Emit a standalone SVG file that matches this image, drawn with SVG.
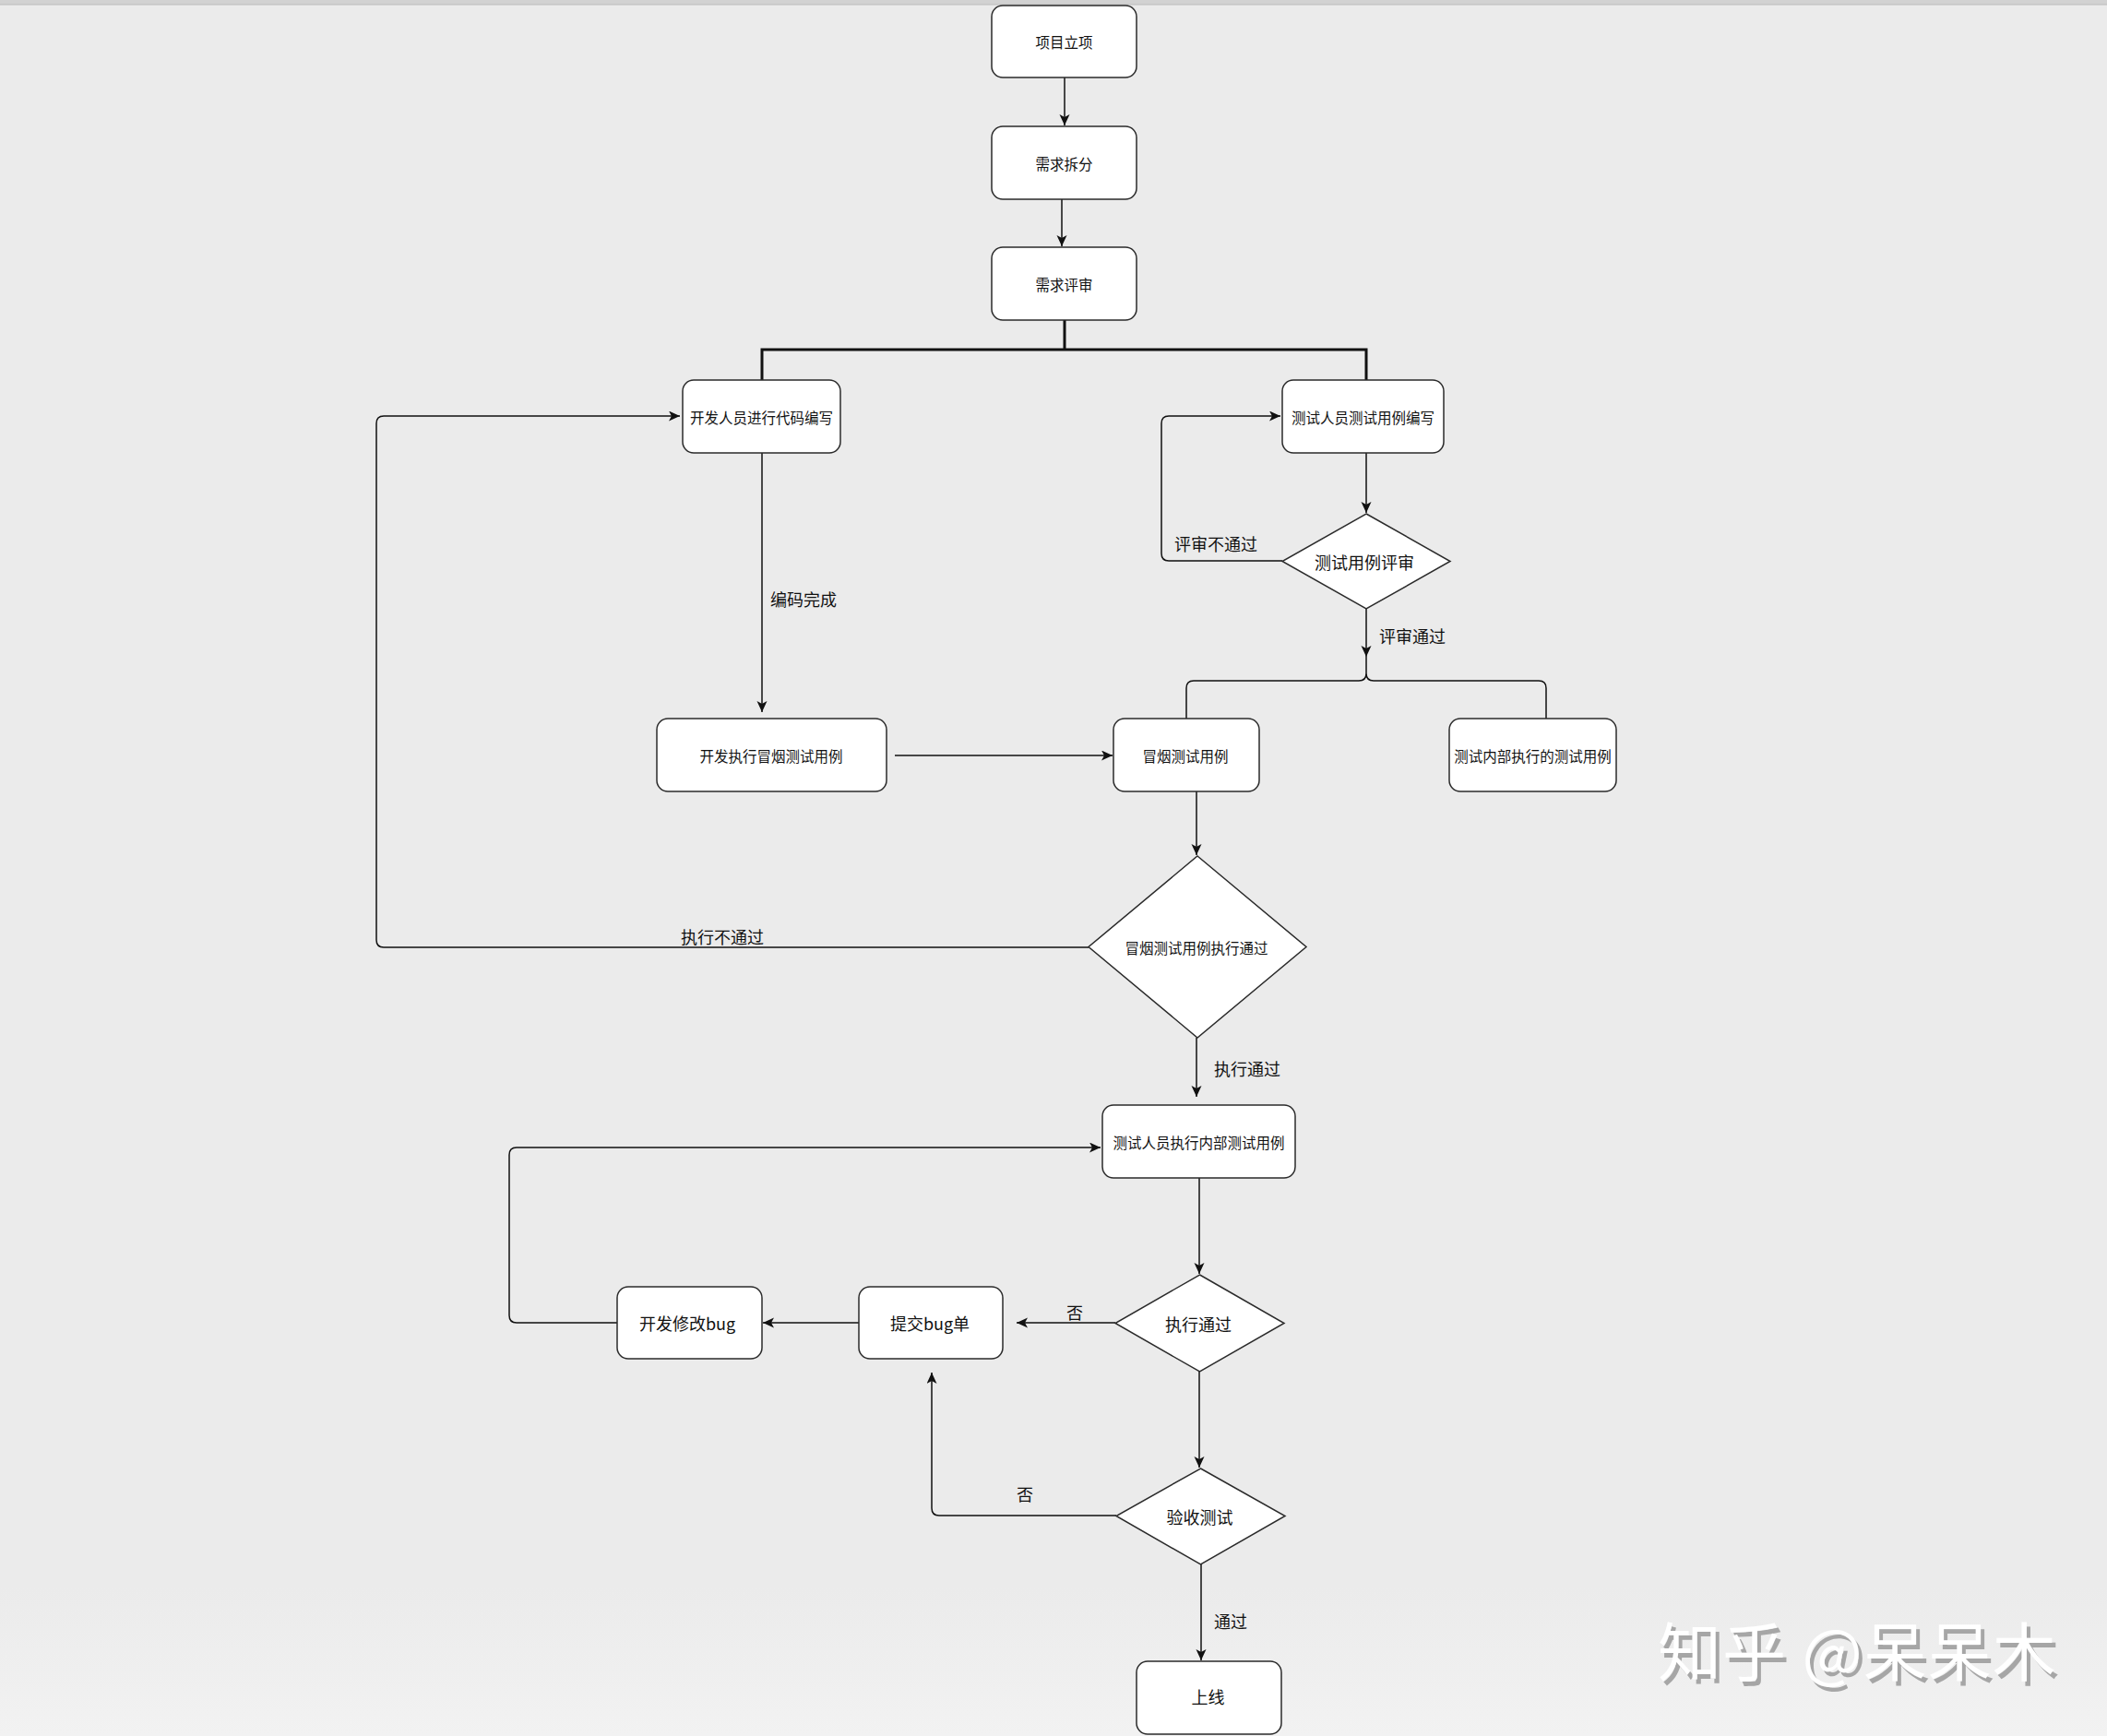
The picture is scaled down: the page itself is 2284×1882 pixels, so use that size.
<svg xmlns="http://www.w3.org/2000/svg" width="2284" height="1882" viewBox="0 0 2284 1882">
<defs>
<style>
.bg{fill:#ebebeb}
.box{fill:#ffffff;stroke:#2b2b2b;stroke-width:1.5}
.dia{fill:#ffffff;stroke:#2b2b2b;stroke-width:1.5}
.t{font-family:"Noto Sans CJK SC","Liberation Sans",sans-serif;fill:#111;text-anchor:middle;dominant-baseline:central}
.s{font-size:15.5px}
.m{font-size:18px}
.lbl{font-family:"Noto Sans CJK SC","Liberation Sans",sans-serif;fill:#111;font-size:18px;dominant-baseline:central}
.c{fill:none;stroke:#111;stroke-width:1.5}
.ca{fill:none;stroke:#111;stroke-width:1.5;marker-end:url(#arr)}
.thick{fill:none;stroke:#111;stroke-width:3}
.wm{font-family:"Noto Sans CJK SC","Liberation Sans",sans-serif;font-size:69px;letter-spacing:1px;dominant-baseline:central}
</style>
<marker id="arr" markerUnits="userSpaceOnUse" markerWidth="13" markerHeight="12" refX="12" refY="5.5" orient="auto">
<path d="M0,0 L12,5.5 L0,11 L3,5.5 z" fill="#111"/>
</marker>
<linearGradient id="bot" x1="0" y1="0" x2="0" y2="1">
<stop offset="0" stop-color="#ebebeb"/>
<stop offset="1" stop-color="#f2f2f2"/>
</linearGradient>
<filter id="shadow" x="-5%" y="-20%" width="115%" height="150%">
<feDropShadow dx="4" dy="5" stdDeviation="0.3" flood-color="#a6a6a6" flood-opacity="1"/>
</filter>
</defs>
<rect class="bg" x="0" y="0" width="2284" height="1882"/>
<rect x="0" y="1720" width="2284" height="162" fill="url(#bot)"/>
<rect x="0" y="0" width="2284" height="5" fill="#d2d2d2"/>
<line x1="0" y1="5" x2="2284" y2="5" stroke="#bcbcbc" stroke-width="1"/>

<g id="connectors">
<path class="ca" d="M1154,84 L1154,136"/>
<path class="ca" d="M1151,216 L1151,267"/>
<path class="thick" d="M1154,347 L1154,379 M826,412 L826,379 L1481,379 L1481,412"/>
<path class="ca" d="M826,491 L826,772"/>
<path class="ca" d="M1481,491 L1481,556"/>
<path class="ca" d="M1390,608 L1267,608 Q1259,608 1259,600 L1259,459 Q1259,451 1267,451 L1388,451"/>
<path class="ca" d="M1481,660 L1481,712"/>
<path class="c" d="M1481,712 L1481,730 Q1481,738 1473,738 L1294,738 Q1286,738 1286,746 L1286,779 M1481,730 Q1481,738 1489,738 L1668,738 Q1676,738 1676,746 L1676,779"/>
<path class="ca" d="M970,819 L1206,819"/>
<path class="ca" d="M1297,858 L1297,927"/>
<path class="ca" d="M1180,1027 L416,1027 Q408,1027 408,1019 L408,459 Q408,451 416,451 L737,451"/>
<path class="ca" d="M1297,1125 L1297,1189"/>
<path class="ca" d="M1300,1277 L1300,1381"/>
<path class="ca" d="M1209,1434 L1102,1434"/>
<path class="ca" d="M931,1434 L827,1434"/>
<path class="ca" d="M669,1434 L560,1434 Q552,1434 552,1426 L552,1252 Q552,1244 560,1244 L1193,1244"/>
<path class="ca" d="M1300,1487 L1300,1591"/>
<path class="ca" d="M1210,1643 L1018,1643 Q1010,1643 1010,1635 L1010,1488"/>
<path class="ca" d="M1302,1696 L1302,1800"/>
<text class="lbl" x="835" y="649">编码完成</text>
<text class="lbl" x="1273" y="589">评审不通过</text>
<text class="lbl" x="1495" y="689">评审通过</text>
<text class="lbl" x="738" y="1015">执行不通过</text>
<text class="lbl" x="1316" y="1158">执行通过</text>
<text class="lbl" x="1156" y="1422">否</text>
<text class="lbl" x="1102" y="1619">否</text>
<text class="lbl" x="1316" y="1757">通过</text>
</g>

<g id="n-xmlx">
<rect class="box" x="1075" y="6" width="157" height="78" rx="12"/>
<text class="t s" x="1153.5" y="45">项目立项</text>
</g>
<g id="n-xqcf">
<rect class="box" x="1075" y="137" width="157" height="79" rx="12"/>
<text class="t s" x="1153.5" y="176.5">需求拆分</text>
</g>
<g id="n-xqps">
<rect class="box" x="1075" y="268" width="157" height="79" rx="12"/>
<text class="t s" x="1153.5" y="307.5">需求评审</text>
</g>
<g id="n-kfbx">
<rect class="box" x="740" y="412" width="171" height="79" rx="12"/>
<text class="t s" x="825.5" y="451.5">开发人员进行代码编写</text>
</g>
<g id="n-csbx">
<rect class="box" x="1390" y="412" width="175" height="79" rx="12"/>
<text class="t s" x="1477.5" y="451.5">测试人员测试用例编写</text>
</g>
<g id="d-csps">
<polygon class="dia" points="1481,557 1572,608.5 1481,660 1390,608.5"/>
<text class="t m" x="1479" y="608.5">测试用例评审</text>
</g>
<g id="n-kfmy">
<rect class="box" x="712" y="779" width="249" height="79" rx="12"/>
<text class="t s" x="836" y="818.5">开发执行冒烟测试用例</text>
</g>
<g id="n-mycs">
<rect class="box" x="1207" y="779" width="158" height="79" rx="12"/>
<text class="t s" x="1285" y="818.5">冒烟测试用例</text>
</g>
<g id="n-nbcs">
<rect class="box" x="1571" y="779" width="181" height="79" rx="12"/>
<text class="t s" x="1661.5" y="818.5">测试内部执行的测试用例</text>
</g>
<g id="d-myzx">
<polygon class="dia" points="1298,928 1416,1026.5 1298,1125 1180,1026.5"/>
<text class="t s" x="1297" y="1026.5">冒烟测试用例执行通过</text>
</g>
<g id="n-cszx">
<rect class="box" x="1195" y="1198" width="209" height="79" rx="12"/>
<text class="t s" x="1299.5" y="1237.5">测试人员执行内部测试用例</text>
</g>
<g id="d-zxtg">
<polygon class="dia" points="1300.5,1382 1392,1434.5 1300.5,1487 1209,1434.5"/>
<text class="t m" x="1299" y="1434.5">执行通过</text>
</g>
<g id="n-tjbug">
<rect class="box" x="931" y="1395" width="156" height="78" rx="12"/>
<text class="t m" x="1008" y="1434">提交bug单</text>
</g>
<g id="n-kfxg">
<rect class="box" x="669" y="1395" width="157" height="78" rx="12"/>
<text class="t m" x="745" y="1434">开发修改bug</text>
</g>
<g id="d-ysc">
<polygon class="dia" points="1301.5,1592 1393,1643.5 1301.5,1696 1210,1643.5"/>
<text class="t m" x="1300.5" y="1643.5">验收测试</text>
</g>
<g id="n-sx">
<rect class="box" x="1232" y="1801" width="157" height="79" rx="12"/>
<text class="t m" x="1309.5" y="1839">上线</text>
</g>

<g id="watermark">
<text class="wm" x="1797" y="1787" fill="#ffffff" filter="url(#shadow)">知乎 @呆呆木</text>
</g>
</svg>
